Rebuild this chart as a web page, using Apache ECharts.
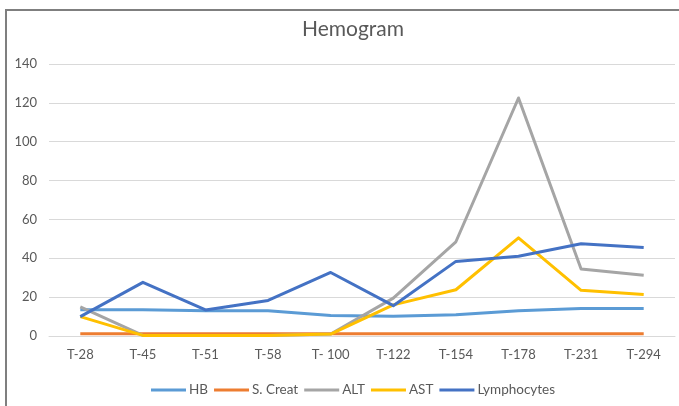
<!DOCTYPE html>
<html><head><meta charset="utf-8">
<script src="https://cdn.jsdelivr.net/npm/echarts@6/dist/echarts.min.js"></script>
<style>html,body{margin:0;padding:0;background:#fff}#c{width:679px;height:406px}</style>
</head><body><div id="c"></div>
<script>
var categories = ['T-28','T-45','T-51','T-58','T- 100','T-122','T-154','T-178','T-231','T-294'];
var hb = [13.5,13.5,13,13,10.6,10.2,11,13,14.2,14.2];
var sCreat = [1.1,1.1,1.1,1.1,1.1,1.1,1.1,1.1,1.1,1.1];
var alt = [15,0.3,0.3,0.3,1,19.5,48.5,122.5,34.5,31.3];
var ast = [10,0.3,0.3,0.3,1,16,23.8,50.5,23.5,21.3];
var lymph = [10,27.6,13.4,18.3,32.7,15.6,38.4,41,47.5,45.6];
var seriesNames = ['HB','S. Creat','ALT','AST','Lymphocytes'];
var seriesData = [hb, sCreat, alt, ast, lymph];
var colors = ['#5B9BD5','#ED7D31','#A5A5A5','#FFC000','#4472C4'];
var yTicks = {min:0, max:140, interval:20};

var chart = echarts.init(document.getElementById('c'), null, {renderer:'canvas'});
var font = 'Lato, "Open Sans", sans-serif';
chart.setOption({
  animation:false,
  color: colors,
  title:{text:'Hemogram', left:348, top:14, textAlign:'center',
    textStyle:{fontFamily:font, fontSize:21, fontWeight:'normal', color:'#595959'}},
  graphic:[{type:'rect', shape:{x:6, y:10, width:700, height:420},
    style:{fill:'none', stroke:'#7f7f7f', lineWidth:2}, silent:true}],
  grid:{left:49, right:4, top:64, bottom:70, containLabel:false},
  legend:{bottom:4, left:146, itemWidth:35, itemHeight:3, itemGap:6, icon:'rect',
    textStyle:{fontFamily:font, fontSize:13.5, color:'#595959', padding:[0,0,0,-2]},
    data: seriesNames},
  xAxis:{type:'category', data:categories, boundaryGap:true,
    axisLine:{lineStyle:{color:'#d9d9d9', width:1}}, axisTick:{show:false},
    axisLabel:{fontFamily:font, fontSize:13, color:'#595959', margin:12}},
  yAxis:{type:'value', min:yTicks.min, max:yTicks.max, interval:yTicks.interval,
    axisLine:{show:false}, axisTick:{show:false},
    splitLine:{lineStyle:{color:'#d9d9d9', width:1}},
    axisLabel:{fontFamily:font, fontSize:13, color:'#595959', margin:12}},
  series: seriesNames.map(function(n,i){
    return {name:n, type:'line', data:seriesData[i], symbol:'none',
      lineStyle:{width:3, color:colors[i], join:'round'}, itemStyle:{color:colors[i]}};
  })
});
</script></body></html>
